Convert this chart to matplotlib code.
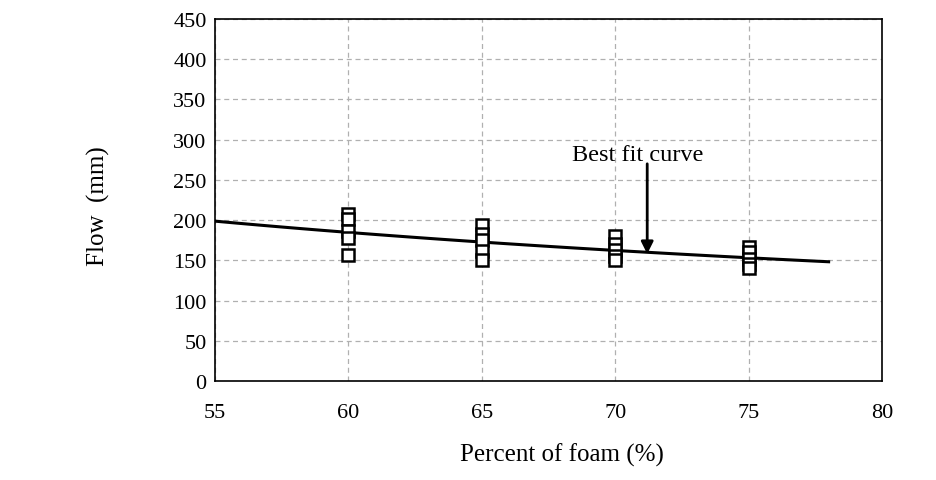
import matplotlib.pyplot as plt
import numpy as np

plt.rcParams['font.family'] = ['Liberation Serif', 'DejaVu Serif']

# measured flow values per foam content
foam = [60] * 5 + [65] * 5 + [70] * 5 + [75] * 5
flow = [207, 201, 186, 178, 157,
        194, 183, 175, 161, 150,
        180, 170, 163, 156, 150,
        166, 160, 152, 146, 141]

# best fit curve (power law) evaluated over the plotted range
fit_x = np.linspace(55, 78, 100)
b, log_a = np.polyfit(np.log(foam), np.log(flow), 1)
fit_y = np.exp(log_a) * fit_x ** b

fig = plt.figure(figsize=(9.36, 4.81), dpi=100)
ax = fig.add_axes([0.2297, 0.2058, 0.7126, 0.7526])

ax.plot(fit_x, fit_y, color='black', linewidth=2.2, zorder=3)
ax.plot(foam, flow, linestyle='none', marker='s', markersize=8,
        markerfacecolor='white', markeredgecolor='black', markeredgewidth=1.8, zorder=4)

ax.annotate('', xy=(71.2, 158), xytext=(71.2, 270),
            arrowprops=dict(arrowstyle='-|>', color='black', lw=2,
                            mutation_scale=18, shrinkA=0, shrinkB=0))
ax.text(70.85, 282, 'Best fit curve', ha='center', va='center', fontsize=17.5)

ax.set_xlim(55, 80)
ax.set_ylim(0, 450)
ax.set_xticks(range(55, 81, 5))
ax.set_yticks(range(0, 451, 50))
ax.grid(True, color='#b0b0b0', linestyle=(0, (4, 3)), linewidth=0.9)
ax.set_axisbelow(True)
ax.tick_params(direction='in', length=0, labelsize=16)
ax.tick_params(axis='y', pad=6)
ax.tick_params(axis='x', pad=16)
for s in ax.spines.values():
    s.set_linewidth(1.2)

ax.set_xlabel('Percent of foam (%)', fontsize=18)
ax.xaxis.set_label_coords(0.52, -0.17)
ax.set_ylabel('Flow  (mm)', fontsize=18)
ax.yaxis.set_label_coords(-0.158, 0.485)

fig.savefig('out.png', dpi=100)
